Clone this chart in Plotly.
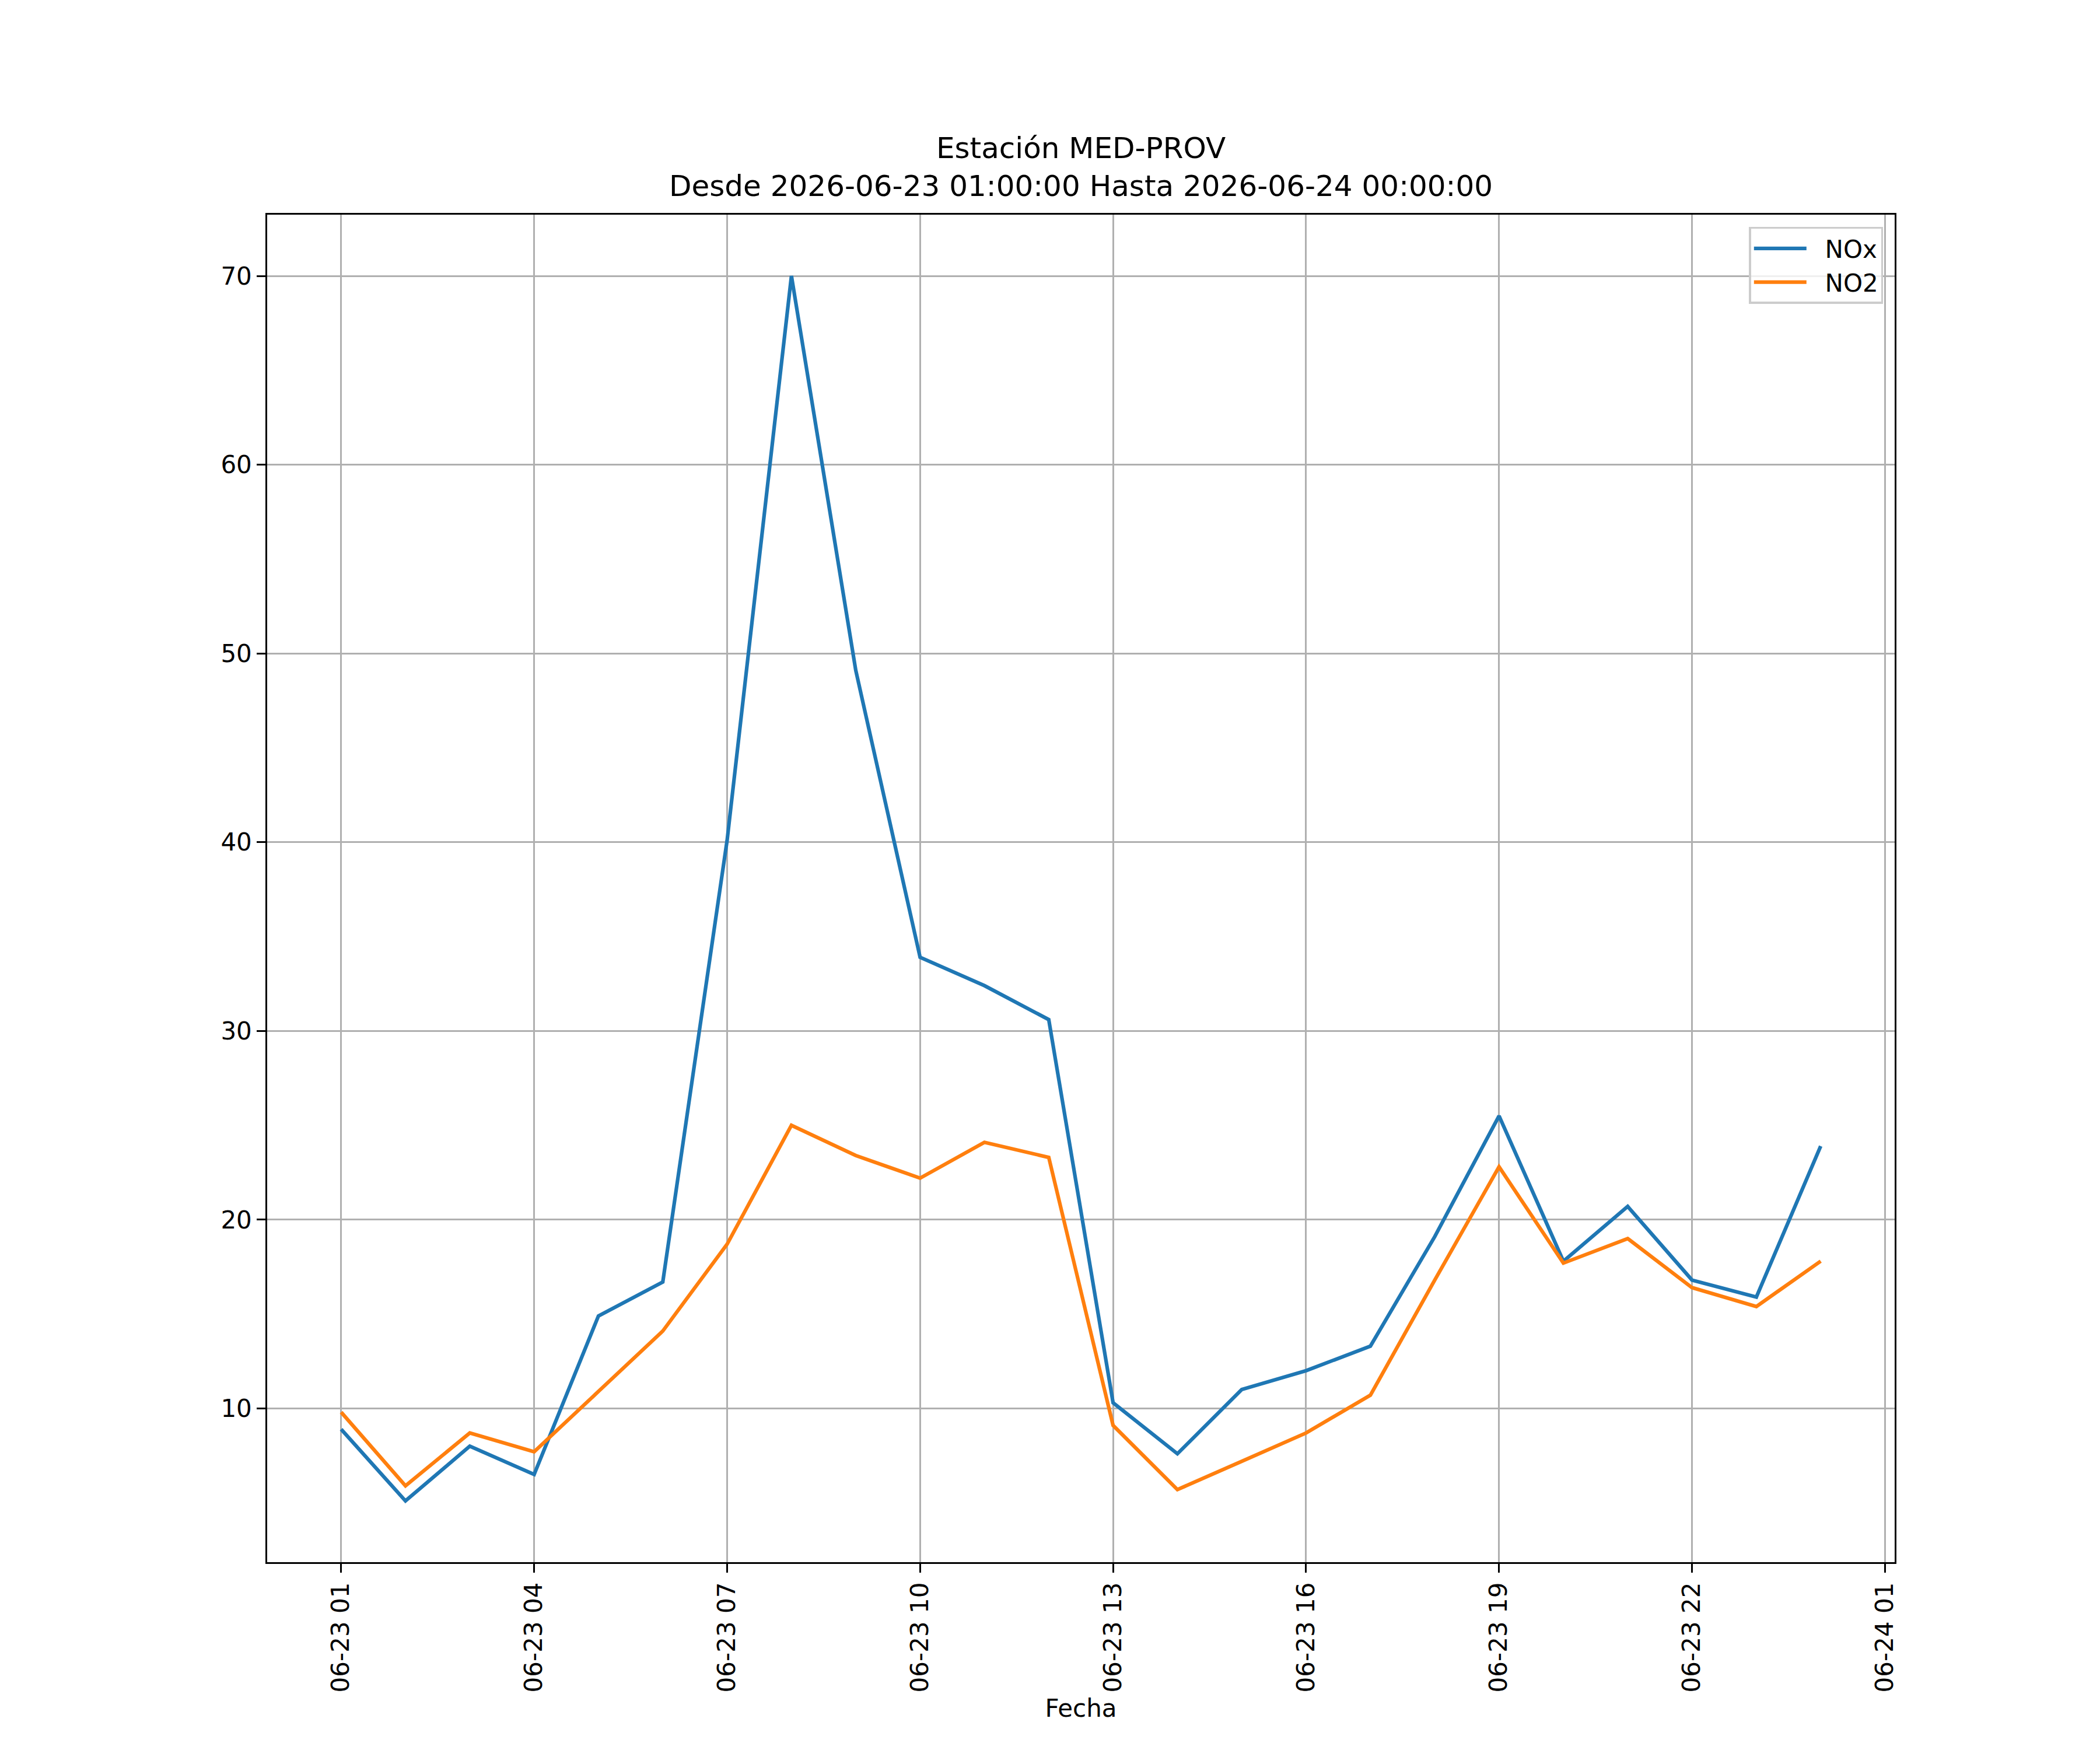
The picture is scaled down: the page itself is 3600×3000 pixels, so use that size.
"""
Hourly NOx / NO2 readings for station MED-PROV, drawn with Plotly.
"""

import plotly.graph_objects as go

# Hourly timestamps (2026-06-23 01:00 .. 2026-06-24 00:00)
TIMES = [
    '2026-06-23 01:00', '2026-06-23 02:00', '2026-06-23 03:00', '2026-06-23 04:00',
    '2026-06-23 05:00', '2026-06-23 06:00', '2026-06-23 07:00', '2026-06-23 08:00',
    '2026-06-23 09:00', '2026-06-23 10:00', '2026-06-23 11:00', '2026-06-23 12:00',
    '2026-06-23 13:00', '2026-06-23 14:00', '2026-06-23 15:00', '2026-06-23 16:00',
    '2026-06-23 17:00', '2026-06-23 18:00', '2026-06-23 19:00', '2026-06-23 20:00',
    '2026-06-23 21:00', '2026-06-23 22:00', '2026-06-23 23:00', '2026-06-24 00:00',
]

NOX = [8.9, 5.1, 8.0, 6.5, 14.9, 16.7, 40.1, 70.0, 49.1, 33.9, 32.4, 30.6,
       10.3, 7.6, 11.0, 12.0, 13.3, 19.1, 25.5, 17.8, 20.7, 16.8, 15.9, 23.9]

NO2 = [9.8, 5.9, 8.7, 7.7, 10.9, 14.1, 18.7, 25.0, 23.4, 22.2, 24.1, 23.3,
       9.1, 5.7, 7.2, 8.7, 10.7, 16.8, 22.8, 17.7, 19.0, 16.4, 15.4, 17.8]

SERIES_NAMES = ['NOx', 'NO2']

# x ticks every 3 hours
TICK_VALS = ['2026-06-23 01:00', '2026-06-23 04:00', '2026-06-23 07:00',
             '2026-06-23 10:00', '2026-06-23 13:00', '2026-06-23 16:00',
             '2026-06-23 19:00', '2026-06-23 22:00', '2026-06-24 01:00']
TICK_TEXT = ['06-23 01', '06-23 04', '06-23 07', '06-23 10', '06-23 13',
             '06-23 16', '06-23 19', '06-23 22', '06-24 01']

TITLE = 'Estación MED-PROV<br>Desde 2026-06-23 01:00:00 Hasta 2026-06-24 00:00:00'

COLORS = {
    'nox': '#1f77b4',
    'no2': '#ff7f0e',
    'grid': '#b0b0b0',
    'axis': 'black',
}

FONT = 'DejaVu Sans'
W, H = 3600, 3000
LW = 6.25      # 1.5pt at 300 dpi
THIN = 3.33    # 0.8pt at 300 dpi
GAP = '\u00a0\u00a0'  # small gap between legend line and label

fig = go.Figure()
fig.add_trace(go.Scatter(x=TIMES, y=NOX, mode='lines', name=GAP + SERIES_NAMES[0],
                         line=dict(color=COLORS['nox'], width=LW)))
fig.add_trace(go.Scatter(x=TIMES, y=NO2, mode='lines', name=GAP + SERIES_NAMES[1],
                         line=dict(color=COLORS['no2'], width=LW)))

# matplotlib-style 5% margins
ymin = min(min(NOX), min(NO2))
ymax = max(max(NOX), max(NO2))
ypad = (ymax - ymin) * 0.05
x_range = ['2026-06-22 23:51', '2026-06-24 01:09']

axis_common = dict(
    showline=True, linewidth=THIN, linecolor=COLORS['axis'], mirror=True,
    showgrid=True, gridcolor=COLORS['grid'], gridwidth=THIN,
    ticks='outside', ticklen=14.6, tickwidth=THIN, tickcolor=COLORS['axis'],
    tickfont=dict(family=FONT, size=42, color='black'),
    zeroline=False,
)

fig.update_layout(
    width=W, height=H,
    margin=dict(l=450, r=360, t=360, b=330, autoexpand=False),
    plot_bgcolor='white', paper_bgcolor='white',
    font=dict(family=FONT, size=42, color='black'),
    xaxis=dict(axis_common, type='date', range=x_range,
               tickmode='array', tickvals=TICK_VALS, ticktext=TICK_TEXT,
               tickangle=-90, automargin=False,
               title=dict(text='Fecha', standoff=14,
                          font=dict(family=FONT, size=42, color='black'))),
    yaxis=dict(axis_common, range=[ymin - ypad, ymax + ypad],
               tick0=0, dtick=10, automargin=False),
    legend=dict(x=0.993, y=0.991, xanchor='right', yanchor='top',
                bgcolor='rgba(255,255,255,0.8)', bordercolor='#cccccc',
                borderwidth=THIN, font=dict(family=FONT, size=42),
                itemwidth=90),
    showlegend=True,
)

# two-line title above the axes
fig.add_annotation(text=TITLE, x=0.5, xref='paper', xanchor='center',
                   y=1, yref='paper', yanchor='bottom', yshift=18,
                   showarrow=False, align='center',
                   font=dict(family=FONT, size=50, color='black'))

fig.write_html("out.html")
